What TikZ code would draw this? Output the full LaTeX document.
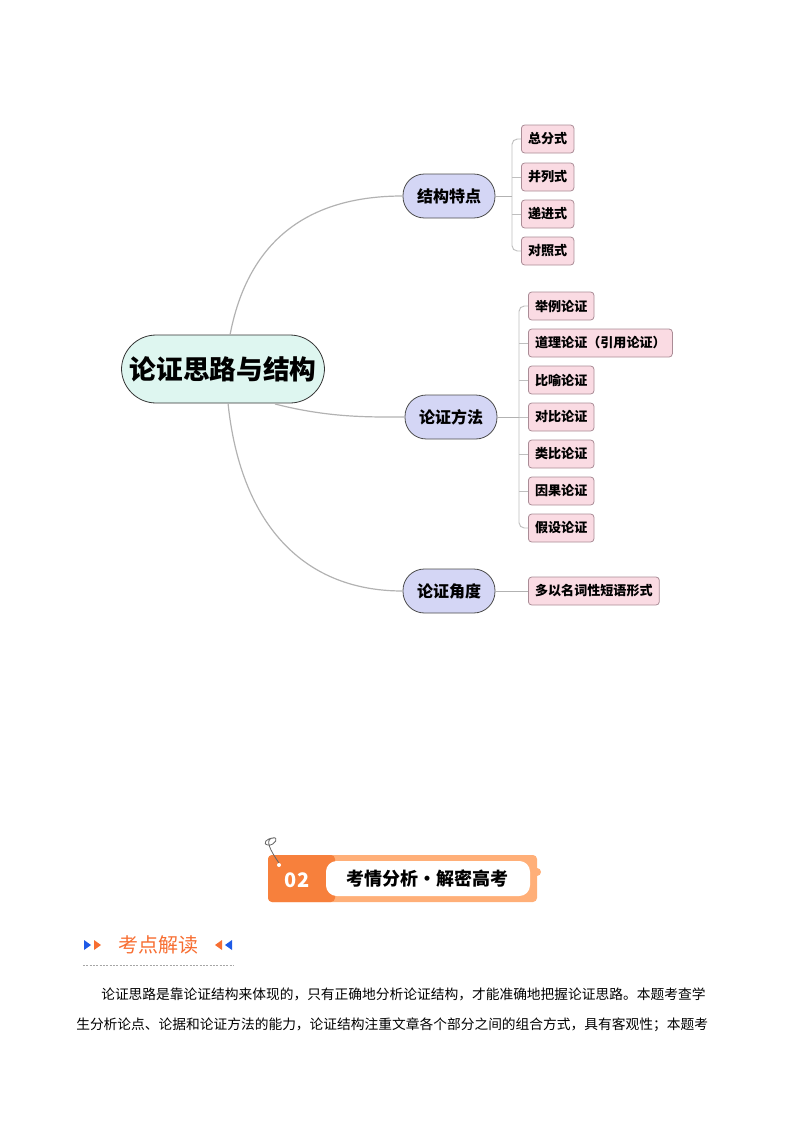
\documentclass[tikz,border=0pt]{standalone}
\usepackage{fontspec}
\newfontfamily\cjk{Noto Sans CJK SC}
\newcommand\cjkb{\cjk\bfseries}
\definecolor{lorange}{RGB}{255,175,120}
\definecolor{dorange}{RGB}{247,128,60}
\definecolor{horange}{RGB}{247,110,50}
\definecolor{hblue}{RGB}{30,90,230}
\definecolor{lav}{RGB}{212,214,245}
\definecolor{rootf}{RGB}{222,246,240}
\definecolor{pinkf}{RGB}{250,219,227}
\definecolor{pinkd}{RGB}{170,140,150}
\begin{document}
\begin{tikzpicture}[x=0.75pt,y=-0.75pt,
 root/.style={draw=black!80,fill=rootf,rounded corners=26pt,minimum width=203*0.75pt,minimum height=68*0.75pt,font=\cjkb\fontsize{20}{22}\selectfont,line width=0.6pt},
 mid/.style={draw=black!70,fill=lav,rounded corners=16pt,minimum width=92*0.75pt,minimum height=44*0.75pt,font=\cjkb\fontsize{12}{14}\selectfont,line width=0.6pt},
 leaf/.style={draw=pinkd,fill=pinkf,rounded corners=2.5pt,minimum height=28*0.75pt,inner xsep=5pt,font=\cjkb\fontsize{9.8}{11}\selectfont,anchor=west,line width=0.6pt},
 link/.style={draw=black!30,line width=0.9pt},
 br/.style={draw=black!25,line width=0.7pt,rounded corners=4pt}]
\useasboundingbox (0,0) rectangle (800,1132);
\node[root] (r) at (223,369) {论证思路与结构};
\node[mid] (a) at (449,196) {结构特点};
\node[mid] (b) at (451,417) {论证方法};
\node[mid] (c) at (449,591) {论证角度};
\draw[link] (230,335) .. controls (250,230) and (320,196) .. (a.west);
\draw[link] (275,404) .. controls (330,418) and (370,417) .. (b.west);
\draw[link] (228,403) .. controls (240,520) and (300,591) .. (c.west);
\foreach \t/\y [count=\i] in {总分式/139,并列式/177,递进式/214,对照式/251}
  \node[leaf] (a\i) at (521,\y) {\t};
\foreach \t/\y [count=\i] in {举例论证/306,道理论证（引用论证）/343,比喻论证/380,对比论证/417,类比论证/454,因果论证/491,假设论证/528}
  \node[leaf] (b\i) at (528,\y) {\t};
\node[leaf] (c1) at (528,591) {多以名词性短语形式};
\draw[br] (a1.west) -- (512,139) -- (512,251) -- (a4.west);
\foreach \i in {2,3} \draw[br] (512,0|-a\i.west) -- (a\i.west);
\draw[link,line width=0.7pt] (a.east) -- (512,196);
\draw[br] (b1.west) -- (519,306) -- (519,528) -- (b7.west);
\foreach \i in {2,...,6} \draw[br] (519,0|-b\i.west) -- (b\i.west);
\draw[link,line width=0.7pt] (b.east) -- (519,417);
\draw[link,line width=0.7pt] (c.east) -- (c1.west);
% banner
\fill[rounded corners=3pt,lorange] (268,855) rectangle (537,902);
\fill[rounded corners=3pt,dorange] (268,855) rectangle (335,902);
\fill[white,rounded corners=8pt] (326,861) rectangle (530,896);
\fill[lorange] (537,872) circle (4);
\fill[white] (279,865) circle (2);
\draw[black!60,line width=0.6pt] (279,863) .. controls (270,850) and (265,840) .. (272,838) .. controls (280,836) and (275,846) .. (268,845) .. controls (262,844) and (266,838) .. (274,838);
\node[font=\cjkb\fontsize{15}{16}\selectfont,text=white] (n02) at (297,880) {02};
\node[font=\cjkb\fontsize{13.5}{15}\selectfont] (ttl) at (427,879) {考情分析•解密高考};
% heading
\fill[hblue] (84,940) -- (91,945) -- (84,950) -- cycle;
\fill[horange] (94,940) -- (101,945) -- (94,950) -- cycle;
\fill[horange] (222,940) -- (215,945) -- (222,950) -- cycle;
\fill[hblue] (232,940) -- (225,945) -- (232,950) -- cycle;
\node[font=\cjk\fontsize{15}{17}\selectfont,text=horange] (h) at (158,945) {考点解读};
\draw[black!35,line width=0.4pt,dash pattern=on 1.5pt off 1pt] (83,965) -- (234,965);
\node[font=\cjk\fontsize{10.3}{12}\selectfont,anchor=west,inner sep=0] (p1) at (101,994) {论证思路是靠论证结构来体现的，只有正确地分析论证结构，才能准确地把握论证思路。本题考查学};
\node[font=\cjk\fontsize{10.3}{12}\selectfont,anchor=west,inner sep=0] (p2) at (76,1025) {生分析论点、论据和论证方法的能力，论证结构注重文章各个部分之间的组合方式，具有客观性；本题考};
\end{tikzpicture}
\end{document}
